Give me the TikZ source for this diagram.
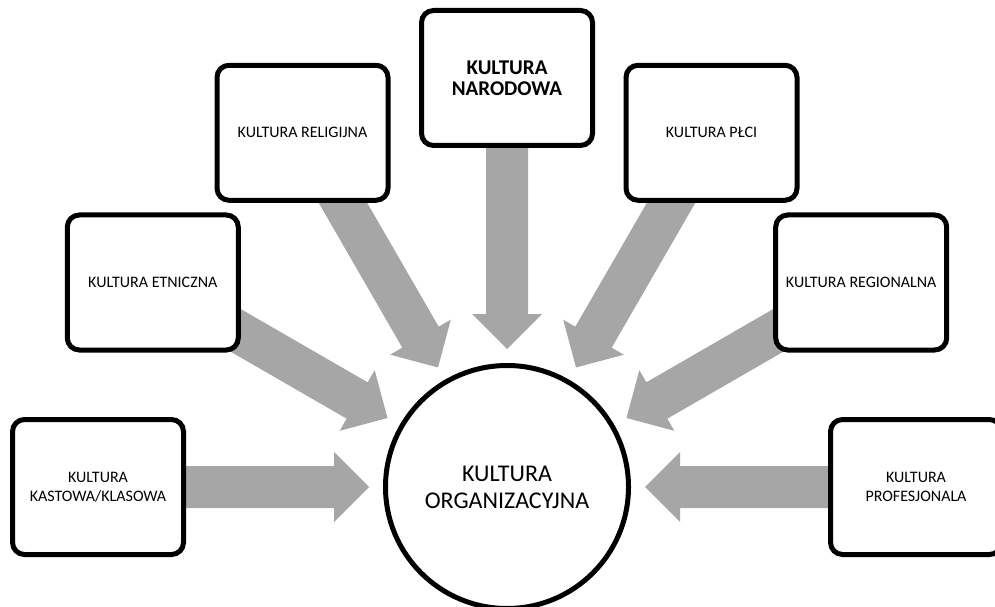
\documentclass[tikz,border=0pt]{standalone}
\usepackage{fontspec}
\setmainfont{Carlito}
\usetikzlibrary{calc,backgrounds}
\definecolor{arrowgray}{HTML}{A6A6A6}
\tikzset{
  box/.style={draw=black, line width=5pt, fill=white, rounded corners=12pt,
    minimum width=171pt, minimum height=135pt, align=center, inner sep=0pt,
    font=\fontsize{16}{19.5}\selectfont},
  hub/.style={circle, draw=black, line width=5pt, fill=white, minimum size=243pt,
    align=center, inner sep=0pt, font=\fontsize{24}{27}\selectfont},
  flow/.style={fill=arrowgray},
}
% wide block arrow from a source box towards the hub, stopping short of it
\newcommand\blockarrow[2]{%
  \path ($(#2)!138pt!(#1)$) coordinate (atip)
        ($(#2)!173pt!(#1)$) coordinate (aneck);
  \fill[flow] ($(#1)!21pt!90:(#2)$) -- ($(aneck)!21pt!-90:(#1)$)
    -- ($(aneck)!35pt!-90:(#1)$) -- (atip) -- ($(aneck)!35pt!90:(#1)$)
    -- ($(aneck)!21pt!90:(#1)$) -- ($(#1)!21pt!-90:(#2)$) -- cycle;}
\begin{document}
\begin{tikzpicture}[x=1pt,y=1pt]
\useasboundingbox (0,0) rectangle (995,606);
\clip (0,0) rectangle (995,606);
\coordinate (c) at (507,119);
\node[hub] (org) at (c) {KULTURA\\ORGANIZACYJNA};
\node[box] (kast) at ($(c)+(180:409)$) {KULTURA\\KASTOWA/KLASOWA};
\node[box] (etn)  at ($(c)+(150:409)$) {KULTURA ETNICZNA};
\node[box] (rel)  at ($(c)+(120:409)$) {KULTURA RELIGIJNA};
\node[box, font=\fontsize{21}{21}\selectfont\bfseries] (nar) at ($(c)+(90:409)$) {KULTURA\\NARODOWA};
\node[box] (plc)  at ($(c)+(60:409)$) {KULTURA PŁCI};
\node[box] (reg)  at ($(c)+(30:409)$) {KULTURA REGIONALNA};
\node[box] (prof) at ($(c)+(0:409)$) {KULTURA\\PROFESJONALA};
\begin{scope}[on background layer]
  \foreach \src in {kast,etn,rel,nar,plc,reg,prof}{\blockarrow{\src}{org}}
\end{scope}
\end{tikzpicture}
\end{document}
